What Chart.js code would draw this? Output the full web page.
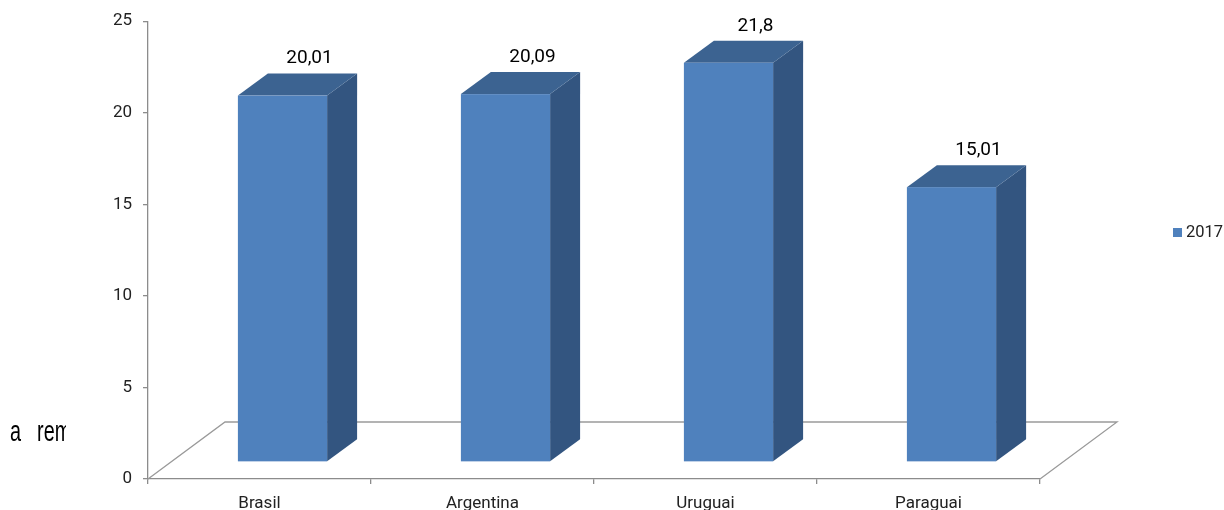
<!DOCTYPE html>
<html>
<head>
<meta charset="utf-8">
<script src="https://cdn.jsdelivr.net/npm/chart.js@4.4.1/dist/chart.umd.min.js"></script>
<style>
  html, body { margin: 0; padding: 0; background: #ffffff; }
  #wrap { position: relative; width: 1224px; height: 510px; overflow: hidden; background: #fff; }
  #side { position: absolute; left: 10px; top: 416px; width: 56px; height: 36px; overflow: hidden; }
  #side span { display: inline-block; transform: scaleX(0.66); transform-origin: 0 0;
          font-family: "Liberation Sans", Arial, sans-serif; font-size: 30px; line-height: 30px;
          word-spacing: 16px; color: #000; white-space: nowrap; }
  canvas { position: absolute; left: 0; top: 0; }
</style>
</head>
<body>
<div id="wrap">
  <canvas id="c" width="1224" height="510"></canvas>
  <div id="side"><span>a rem</span></div>
</div>
<script>
// ---- data ----
const categories = ['Brasil', 'Argentina', 'Uruguai', 'Paraguai'];
const values2017 = [20.01, 20.09, 21.8, 15.01];
const seriesName = '2017';
const yMin = 0;
const yMax = 25;
const yStep = 5;

// ---- style ----
const FRONT = '#4F81BD';
const TOP = '#3C6391';
const SIDE = '#335580';
const AXIS = '#8C8C8C';
const TEXT = '#222222';
const FONT = 'Roboto';
const SHIFT_X = 23, SHIFT_Y = 17;   // bar position inside floor depth
const DEPTH_X = 30, DEPTH_Y = 22;   // bar depth
const FLOOR_DX = 77, FLOOR_DY = 57; // floor depth

function fmt(v) { return String(v).replace('.', ','); }

const box3d = {
  id: 'box3d',
  beforeDatasetsDraw(chart) {
    const { ctx, chartArea: a } = chart;
    ctx.save();
    // floor
    ctx.strokeStyle = '#9A9A9A';
    ctx.lineWidth = 1.3;
    ctx.beginPath();
    ctx.moveTo(a.left, a.bottom);
    ctx.lineTo(a.left + FLOOR_DX, a.bottom - FLOOR_DY);
    ctx.lineTo(a.right + FLOOR_DX, a.bottom - FLOOR_DY);
    ctx.lineTo(a.right, a.bottom);
    ctx.stroke();

    const meta = chart.getDatasetMeta(0);
    const data = chart.data.datasets[0].data;
    meta.data.forEach((el, i) => {
      const p = el.getProps(['x', 'y', 'base', 'width'], true);
      const l = p.x - p.width / 2 + SHIFT_X;
      const r = l + p.width;
      const t = p.y - SHIFT_Y;
      const b = p.base - SHIFT_Y;
      // side
      ctx.fillStyle = SIDE;
      ctx.beginPath();
      ctx.moveTo(r, t); ctx.lineTo(r + DEPTH_X, t - DEPTH_Y);
      ctx.lineTo(r + DEPTH_X, b - DEPTH_Y); ctx.lineTo(r, b);
      ctx.closePath(); ctx.fill();
      // top
      ctx.fillStyle = TOP;
      ctx.beginPath();
      ctx.moveTo(l, t); ctx.lineTo(l + DEPTH_X, t - DEPTH_Y);
      ctx.lineTo(r + DEPTH_X, t - DEPTH_Y); ctx.lineTo(r, t);
      ctx.closePath(); ctx.fill();
      // front
      ctx.fillStyle = FRONT;
      ctx.fillRect(l, t, r - l, b - t);
      // value label
      ctx.fillStyle = '#000';
      ctx.font = '19px ' + FONT;
      ctx.textAlign = 'center';
      ctx.textBaseline = 'middle';
      ctx.fillText(fmt(data[i]), (l + r) / 2 + 27, t - DEPTH_Y - 15);
    });
    ctx.restore();
    return false;
  },
  afterDraw(chart) {
    const { ctx, chartArea: a } = chart;
    const ds = chart.data.datasets[0];
    ctx.save();
    const x = a.right + 133, y = 228;
    ctx.fillStyle = ds.backgroundColor;
    ctx.fillRect(x, y, 9, 9);
    ctx.fillStyle = TEXT;
    ctx.font = '16.5px ' + FONT;
    ctx.textAlign = 'left';
    ctx.textBaseline = 'middle';
    ctx.fillText(ds.label, x + 13, y + 5);
    ctx.restore();
  }
};

new Chart(document.getElementById('c'), {
  type: 'bar',
  data: {
    labels: categories,
    datasets: [{
      label: seriesName,
      data: values2017,
      backgroundColor: FRONT,
      categoryPercentage: 1,
      barPercentage: 0.4
    }]
  },
  options: {
    responsive: false,
    animation: false,
    devicePixelRatio: 1,
    layout: { padding: { top: 19, right: 184, bottom: 0, left: 0 } },
    plugins: { legend: { display: false }, tooltip: { enabled: false } },
    scales: {
      x: {
        offset: true,
        grid: { display: true, offset: true, drawOnChartArea: false, drawTicks: true, tickLength: 5, color: AXIS, lineWidth: 1.3 },
        border: { display: true, color: AXIS, width: 1.3 },
        ticks: { color: TEXT, font: { family: FONT, size: 17 }, padding: 10, maxRotation: 0 },
        afterFit(s) { s.height = 31; }
      },
      y: {
        min: yMin, max: yMax,
        grid: { display: true, drawOnChartArea: false, drawTicks: true, tickLength: 5, color: AXIS, lineWidth: 1.3 },
        border: { display: true, color: AXIS, width: 1.3 },
        ticks: { stepSize: yStep, color: TEXT, font: { family: FONT, size: 17 }, padding: 11 },
        afterFit(s) { s.width = 148; }
      }
    }
  },
  plugins: [box3d]
});
</script>
</body>
</html>
